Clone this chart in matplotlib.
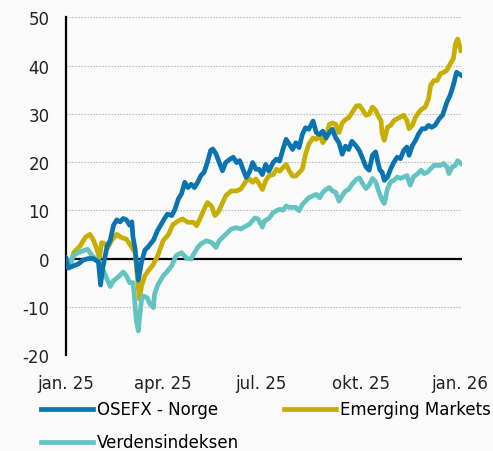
import numpy as np
import matplotlib
matplotlib.use("Agg")
import matplotlib.pyplot as plt

# days since 1 Jan 2025, cumulative return in %
osefx_days = [0, 2, 7, 11, 16, 21, 25, 30, 32, 34, 38, 41, 44, 47, 50, 53, 56, 59, 61, 62,
              64, 67, 70, 73, 76, 81, 85, 88, 91, 94, 98, 101, 104, 107, 110, 113, 116, 119,
              122, 125, 128, 131, 134, 136, 139, 142, 145, 148, 152, 155, 158, 161, 164, 167,
              170, 173, 176, 179, 182, 185, 188, 192, 195, 198, 201, 204, 207, 210, 213, 216,
              219, 222, 225, 229, 232, 235, 238, 241, 244, 247, 250, 253, 256, 259, 262, 265,
              269, 272, 275, 278, 281, 284, 287, 289, 291, 293, 295, 298, 301, 304, 307, 310,
              313, 316, 318, 321, 324, 327, 330, 333, 336, 339, 342, 346, 349, 351, 353, 356,
              359, 362, 364, 367]
osefx = [0, -2, -1.5, -1.2, -0.3, 0, 0, -0.7, -5.5, -2, 2.5, 3.8, 6.9, 8, 7.6, 8.3, 8, 6.9, 7.6, 4.5,
         2, -4.5, -0.7, 1.7, 2.4, 3.8, 5.9, 7, 8.2, 9.2, 8.9, 10.2, 12.3, 13.4, 15.8, 14.7, 15.4, 14.7,
         15.8, 17.2, 17.9, 19.9, 22.4, 22.7, 21.7, 19.9, 18.2, 19.9, 20.6, 21, 19.9, 20.3, 18.5, 16.8,
         17.9, 19.9, 18.5, 18.5, 17.4, 19.5, 18.1, 19.9, 20.6, 20.2, 22.6, 24.7, 23.7, 22.6, 24, 23,
         25.7, 27.1, 26.8, 28.5, 26.1, 25.7, 26.4, 25, 26.1, 26.8, 25, 24, 21.6, 23.3, 22.6, 24.3,
         23.3, 22.3, 20.7, 19, 18.3, 21.4, 22.1, 20, 18.3, 17.9, 16.2, 16.9, 18.6, 20, 21, 20.7,
         22.4, 23.1, 21.4, 23.4, 24.5, 25.9, 26.9, 26.9, 27.6, 27.2, 27.6, 29, 29.7, 31, 32.4, 33.8,
         35.9, 38.6, 38.3, 37.9]

em_days = [0, 4, 7, 13, 18, 22, 25, 28, 31, 33, 36, 39, 42, 47, 51, 56, 61, 64, 66, 68,
           70, 73, 76, 81, 85, 90, 95, 99, 104, 108, 113, 118, 121, 124, 128, 131, 135, 138, 141, 144,
           148, 153, 158, 162, 167, 170, 173, 176, 179, 182, 185, 188, 192, 195, 198, 201, 204, 207,
           210, 213, 216, 219, 222, 225, 229, 232, 235, 238, 241, 244, 247, 250, 253, 256, 259, 262,
           265, 269, 272, 275, 278, 281, 284, 287, 290, 292, 293, 295, 298, 301, 304, 307, 310, 313,
           316, 318, 321, 324, 327, 330, 333, 336, 338, 341, 344, 347, 350, 353, 356, 359, 361, 363,
           364, 366]
em = [0, -1.4, 1.2, 2.6, 4.4, 5, 4, 2.3, 0.2, 3.3, 3, 2.3, 3.7, 5, 4.4, 4, 2.3, 1.2, -3.6, -8.4,
      -5.7, -3.6, -2.6, -1.2, 0.6, 3.7, 5, 7, 7.8, 8.2, 7.5, 7.5, 6.8, 8.2, 10.2, 11.6, 10.8, 8.9, 9.6, 11,
      13, 14, 14, 14.4, 16.1, 16.5, 15.8, 16.5, 15.5, 14.3, 16.1, 17.1, 17.4, 18.5, 18.1, 18.8, 19.5, 18.1,
      17.1, 17.1, 17.8, 18.5, 21.6, 23.7, 25, 24.7, 25.7, 24, 25, 27.8, 28.1, 27.8, 26.1, 28.1, 28.8, 29.2,
      30.2, 31.6, 31.7, 30.8, 29.7, 29.9, 31.4, 30.7, 29.3, 28.6, 25.9, 24.5, 27.2, 27.6, 28.6, 29, 29.3, 29.7,
      28.6, 26.9, 27.6, 29.3, 30.3, 31, 31.4, 33.1, 35.9, 36.9, 36.9, 38.3, 38.6, 39, 40.3, 41.4, 44.5, 45.5,
      44.8, 43.1]

world_days = [0, 4, 7, 11, 16, 20, 24, 28, 31, 34, 38, 41, 44, 48, 53, 56, 59, 62, 63, 65,
              67, 68, 70, 72, 75, 78, 81, 82, 85, 90, 93, 98, 102, 107, 112, 116, 118, 122, 125, 130,
              135, 139, 142, 148, 153, 158, 162, 165, 170, 175, 178, 182, 184, 188, 192, 195, 198, 201,
              204, 207, 210, 213, 216, 219, 222, 225, 229, 232, 235, 238, 241, 244, 247, 250, 253, 256,
              259, 262, 265, 269, 272, 275, 278, 281, 284, 287, 290, 293, 295, 298, 301, 304, 307, 310,
              313, 316, 319, 322, 326, 329, 332, 335, 338, 341, 344, 347, 350, 353, 355, 358, 361, 363,
              366]
world = [0, -0.8, 0.6, 1.2, 1.6, 1.9, 0.6, -0.1, -0.8, -2.2, -4.3, -5.8, -4.6, -3.9, -2.8, -3.6, -5, -5, -7, -12.6,
         -15, -12.6, -8.5, -7.8, -8.1, -9.5, -10.2, -7.4, -5.5, -3.6, -2.9, -1.5, 0.6, 1.2, 0, -0.1, 0.8, 2.3, 3, 3.7,
         3.3, 2.3, 3.7, 5, 6.1, 6.4, 6.1, 6.5, 7.1, 8.4, 8.2, 6.5, 7.8, 8.3, 9.5, 9.9, 10.2, 10,
         10.9, 10.6, 10.6, 10.6, 9.9, 11.2, 11.9, 12.6, 13, 13.3, 12.6, 13.7, 14.3, 14.7, 14, 13.7, 11.9, 13,
         14, 14.3, 15.4, 16.4, 16.7, 15.5, 14.5, 15.2, 16.6, 15.9, 13.8, 12.1, 11.4, 14.5, 15.9, 16.2, 16.9, 16.6,
         16.9, 17.2, 15.2, 16.9, 17.6, 18.3, 17.6, 17.9, 18.6, 19.3, 19.3, 19.3, 19.7, 19, 17.6, 19, 19.3, 20.3,
         19.7]

tick_days = [0, 90, 181, 273, 365]
tick_labels = ['jan. 25', 'apr. 25', 'jul. 25', 'okt. 25', 'jan. 26']

plt.rcParams['font.family'] = ['DejaVu Sans']
plt.rcParams['axes.unicode_minus'] = False
bg = '#fafafa'

fig = plt.figure(figsize=(4.93, 4.52), dpi=100, facecolor=bg)
ax = fig.add_axes([0.134, 0.2124, 0.803, 0.7471], facecolor=bg)

    #grid and zero line
for v in range(-20, 60, 10):
    if v != 0:
        ax.axhline(v, color='#b0b0b0', lw=0.8, ls=(0, (1.2, 1.5)), zorder=1)
ax.axhline(0, color='black', lw=1.6, zorder=2)

l1, = ax.plot(osefx_days, osefx, color='#0a74b0', lw=3.4, solid_joinstyle='round', zorder=4, label='OSEFX - Norge')
l2, = ax.plot(em_days, em, color='#c8ae00', lw=3.4, solid_joinstyle='round', zorder=3, label='Emerging Markets')
l3, = ax.plot(world_days, world, color='#62c3c1', lw=3.4, solid_joinstyle='round', zorder=3, label='Verdensindeksen')

ax.set_xlim(0, 367)
ax.set_ylim(-20, 50)
ax.set_yticks(range(-20, 60, 10))
ax.set_xticks(tick_days)
ax.set_xticklabels(tick_labels)
ax.tick_params(axis='y', length=0, pad=12, labelsize=12, colors='#222222')
ax.tick_params(axis='x', length=0, pad=14, labelsize=12, colors='#222222')

for s in ['top', 'right', 'bottom']:
    ax.spines[s].set_visible(False)
ax.spines['left'].set_linewidth(1.6)
ax.spines['left'].set_color('black')

fig.legend([l1, l3, l2], [l1.get_label(), l3.get_label(), l2.get_label()],
           loc='upper left', bbox_to_anchor=(0.083, 0.112), ncol=2, frameon=False,
           fontsize=12, handlelength=3.1, handletextpad=0.25, columnspacing=2.7,
           labelspacing=0.9, borderpad=0, borderaxespad=0)
for lh in fig.legends[0].get_lines():
    lh.set_linewidth(3.4)

fig.savefig('out.png', dpi=100, facecolor=bg)
